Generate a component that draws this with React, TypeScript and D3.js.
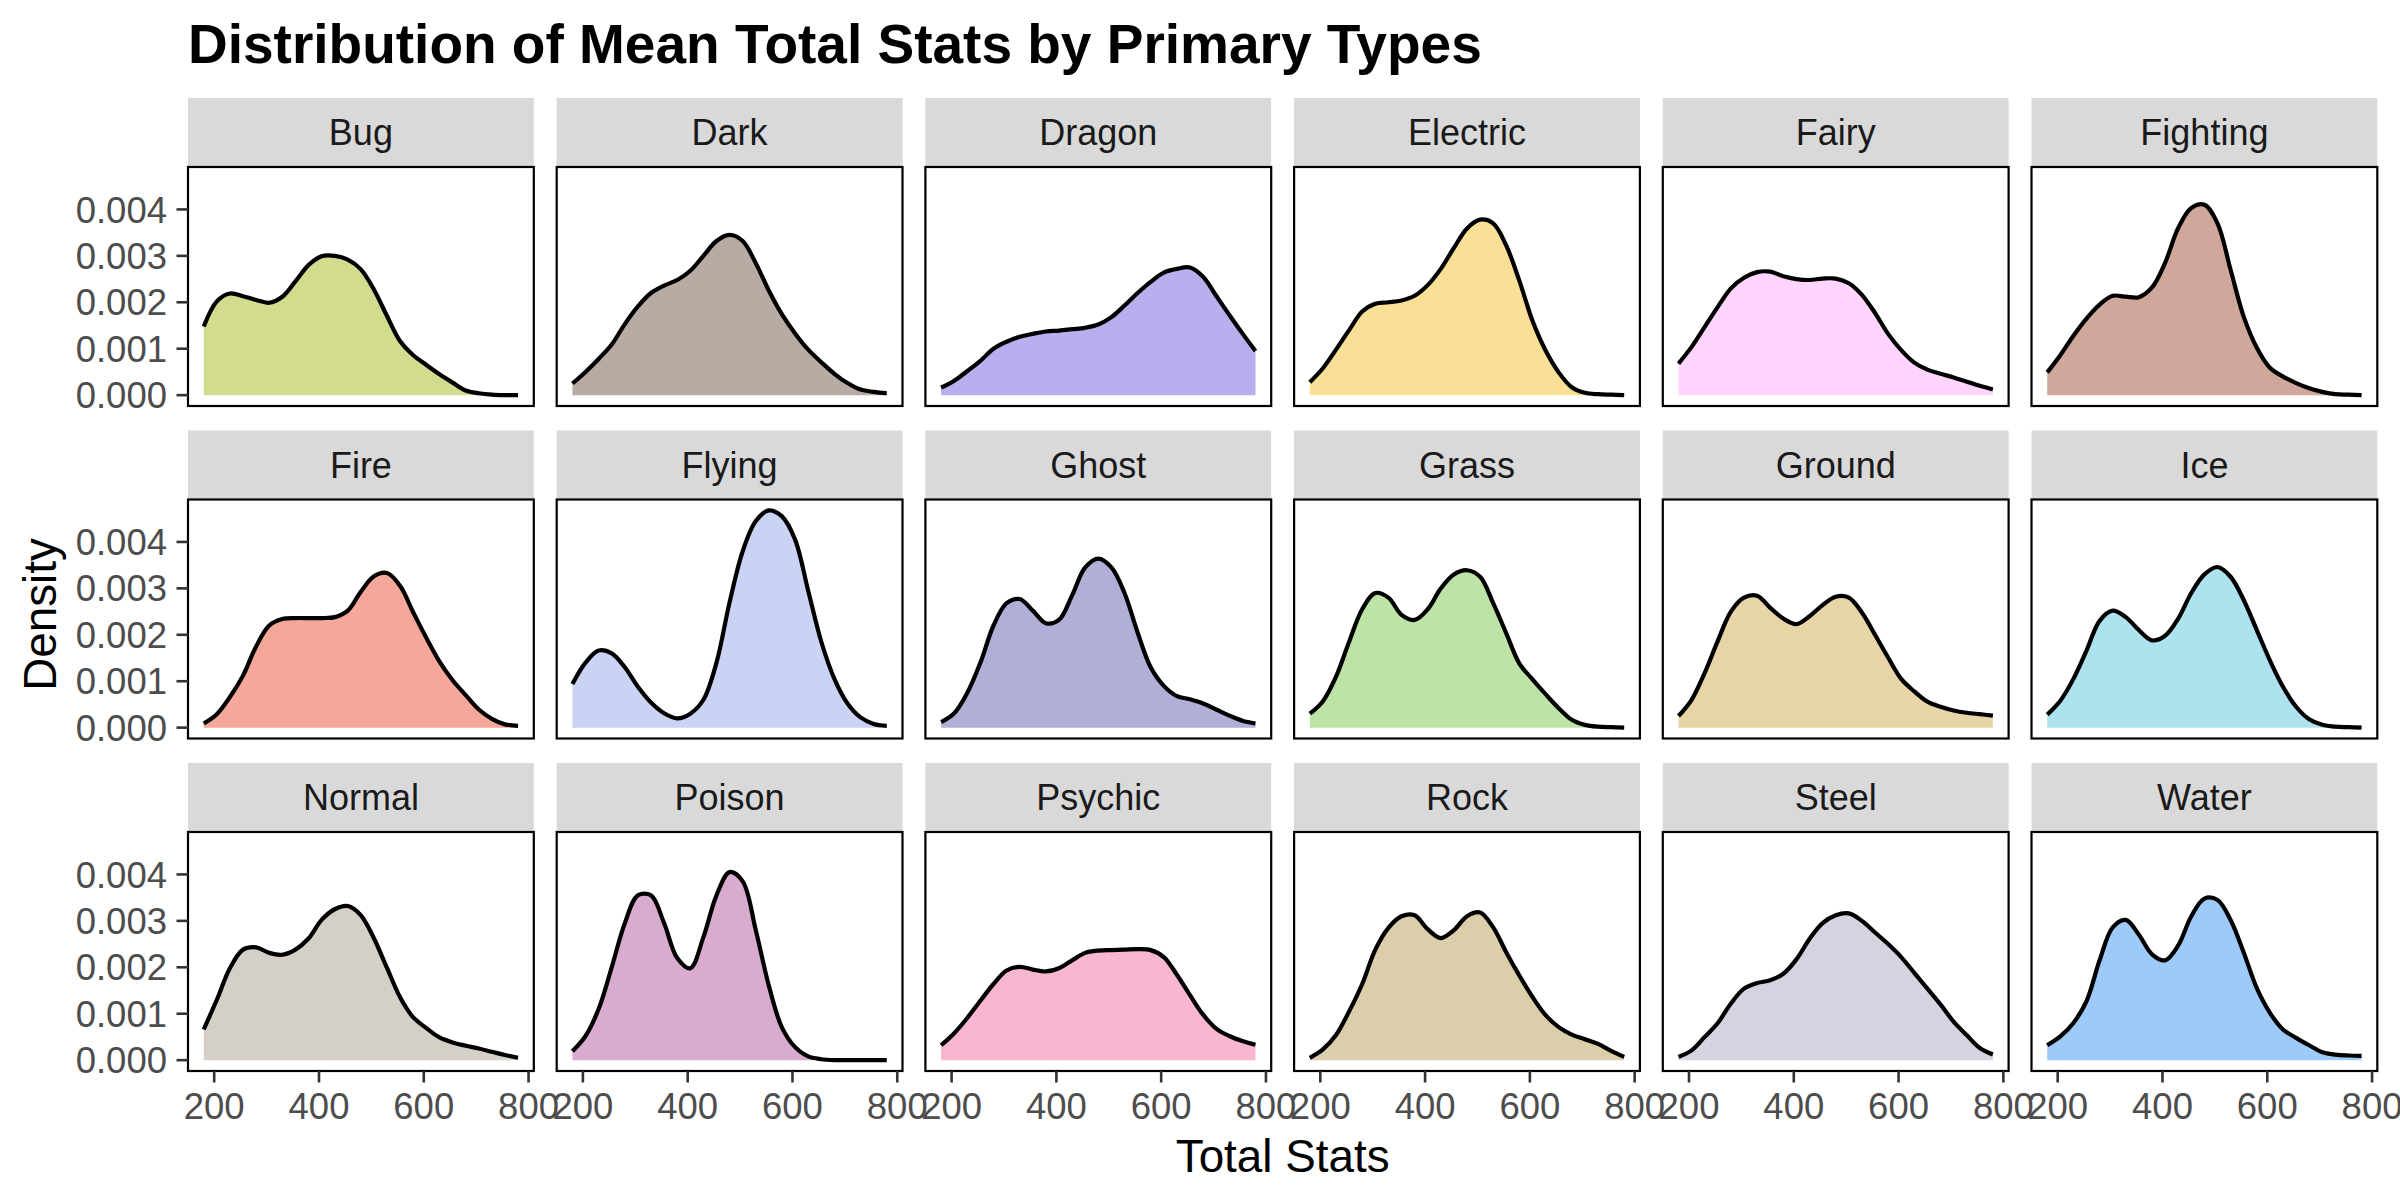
import React from 'react';
import * as d3 from 'd3';

// x grid the densities were read at (Total Stats)
const statGrid = [180, 205, 230, 255, 280, 305, 330, 355, 380, 405, 430, 455, 480, 505, 530, 555, 580, 605, 630, 655, 680, 705, 730, 755, 780];

// density values, in thousandths
const bug = [1.48, 2.02, 2.19, 2.13, 2.05, 1.99, 2.12, 2.45, 2.80, 2.99, 3.00, 2.92, 2.71, 2.27, 1.70, 1.16, 0.86, 0.65, 0.45, 0.27, 0.10, 0.04, 0.01, 0.00, 0.00];
const dark = [0.25, 0.50, 0.78, 1.09, 1.53, 1.91, 2.20, 2.36, 2.48, 2.68, 3.00, 3.32, 3.45, 3.32, 2.84, 2.25, 1.74, 1.33, 0.98, 0.71, 0.46, 0.26, 0.12, 0.07, 0.04];
const dragon = [0.16, 0.31, 0.52, 0.74, 1.00, 1.15, 1.26, 1.32, 1.37, 1.39, 1.42, 1.45, 1.52, 1.68, 1.93, 2.20, 2.44, 2.64, 2.72, 2.75, 2.55, 2.14, 1.73, 1.33, 0.95];
const electric = [0.28, 0.58, 0.98, 1.40, 1.80, 1.97, 2.00, 2.04, 2.14, 2.37, 2.72, 3.17, 3.59, 3.78, 3.70, 3.22, 2.46, 1.60, 0.96, 0.49, 0.17, 0.05, 0.02, 0.01, 0.00];
const fairy = [0.68, 1.04, 1.47, 1.90, 2.30, 2.53, 2.65, 2.66, 2.56, 2.50, 2.48, 2.51, 2.51, 2.41, 2.16, 1.77, 1.32, 0.97, 0.70, 0.55, 0.46, 0.38, 0.29, 0.20, 0.12];
const fighting = [0.49, 0.86, 1.28, 1.65, 1.95, 2.14, 2.12, 2.11, 2.32, 2.85, 3.60, 4.03, 4.10, 3.70, 2.70, 1.69, 1.02, 0.59, 0.40, 0.26, 0.15, 0.07, 0.02, 0.01, 0.00];
const fire = [0.09, 0.29, 0.66, 1.12, 1.75, 2.20, 2.34, 2.36, 2.36, 2.36, 2.38, 2.52, 2.93, 3.26, 3.33, 3.05, 2.48, 1.93, 1.42, 1.02, 0.70, 0.39, 0.19, 0.07, 0.04];
const flying = [0.94, 1.40, 1.66, 1.60, 1.30, 0.88, 0.54, 0.31, 0.20, 0.30, 0.60, 1.40, 2.70, 3.80, 4.45, 4.68, 4.55, 4.05, 2.95, 1.85, 1.05, 0.52, 0.22, 0.08, 0.04];
const ghost = [0.12, 0.31, 0.75, 1.40, 2.20, 2.68, 2.77, 2.52, 2.25, 2.32, 2.85, 3.45, 3.64, 3.45, 2.90, 2.05, 1.30, 0.90, 0.68, 0.61, 0.52, 0.39, 0.26, 0.15, 0.09];
const grass = [0.30, 0.57, 1.10, 1.85, 2.55, 2.90, 2.80, 2.43, 2.32, 2.55, 3.00, 3.30, 3.39, 3.25, 2.68, 2.03, 1.38, 1.04, 0.72, 0.42, 0.17, 0.06, 0.02, 0.01, 0.00];
const ground = [0.25, 0.60, 1.18, 1.87, 2.50, 2.80, 2.84, 2.58, 2.35, 2.23, 2.40, 2.64, 2.82, 2.80, 2.48, 2.00, 1.51, 1.05, 0.78, 0.56, 0.45, 0.37, 0.32, 0.29, 0.26];
const ice = [0.28, 0.58, 1.05, 1.66, 2.30, 2.52, 2.38, 2.10, 1.88, 1.98, 2.35, 2.90, 3.30, 3.46, 3.25, 2.75, 2.10, 1.45, 0.88, 0.45, 0.18, 0.06, 0.02, 0.01, 0.00];
const normal = [0.66, 1.30, 1.98, 2.38, 2.43, 2.31, 2.27, 2.38, 2.62, 3.02, 3.25, 3.32, 3.12, 2.62, 1.98, 1.35, 0.92, 0.69, 0.49, 0.38, 0.31, 0.25, 0.18, 0.11, 0.05];
const poison = [0.19, 0.52, 1.10, 2.00, 2.95, 3.55, 3.55, 2.95, 2.20, 1.98, 2.65, 3.55, 4.05, 3.85, 2.80, 1.60, 0.70, 0.28, 0.08, 0.02, 0.00, 0.00, 0.00, 0.00, 0.00];
const psychic = [0.32, 0.58, 0.91, 1.28, 1.64, 1.93, 2.01, 1.95, 1.91, 1.98, 2.15, 2.31, 2.36, 2.37, 2.38, 2.39, 2.37, 2.22, 1.84, 1.40, 0.98, 0.68, 0.52, 0.41, 0.33];
const rock = [0.05, 0.23, 0.54, 1.05, 1.64, 2.38, 2.85, 3.10, 3.12, 2.82, 2.63, 2.80, 3.10, 3.18, 2.86, 2.32, 1.82, 1.36, 0.97, 0.71, 0.55, 0.45, 0.35, 0.20, 0.07];
const steel = [0.07, 0.21, 0.50, 0.80, 1.22, 1.54, 1.66, 1.72, 1.86, 2.17, 2.61, 2.95, 3.12, 3.16, 3.00, 2.75, 2.50, 2.22, 1.88, 1.54, 1.20, 0.83, 0.54, 0.26, 0.12];
const water = [0.32, 0.51, 0.80, 1.27, 2.15, 2.86, 3.02, 2.70, 2.28, 2.15, 2.47, 3.10, 3.48, 3.45, 3.02, 2.32, 1.55, 1.02, 0.66, 0.48, 0.32, 0.17, 0.12, 0.10, 0.09];

const typeNames = ["Bug", "Dark", "Dragon", "Electric", "Fairy", "Fighting", "Fire", "Flying", "Ghost", "Grass", "Ground", "Ice", "Normal", "Poison", "Psychic", "Rock", "Steel", "Water"];
const typeDensities = [bug, dark, dragon, electric, fairy, fighting, fire, flying, ghost, grass, ground, ice, normal, poison, psychic, rock, steel, water];
const typeColors = ["#D3DC8E", "#B8ABA3", "#B9AEEE", "#FADF96", "#FFD5FF", "#D0A89B", "#F5A899", "#CBD3F5", "#AFAFD7", "#BDE3A7", "#E7D5A8", "#ADE3EE", "#D4D0C8", "#D8ABCF", "#F9B6D0", "#DBCEAB", "#D4D4E0", "#9DCAF8"];

const xTicks = [200, 400, 600, 800];
const yTicks = [0, 0.001, 0.002, 0.003, 0.004];

const font = "'Liberation Sans', Arial, Helvetica, sans-serif";

export default function App() {
    const width = 2400;
    const height = 1200;
    const panelLeft = 188;
    const panelW = 345.8;
    const colStep = 368.7;
    const panelTop = 167;
    const rowStep = 332.5;
    const panelH = 239;
    const stripH = 69;
    const nCols = 6;

    const series = typeNames.map((name, i) => ({
        name,
        color: typeColors[i],
        points: statGrid.map((x, j) => ({ x, d: typeDensities[i][j] / 1000 })),
    }));

    // fixed scales shared by all facets, with ggplot's 5% expansion
    const xExtent = d3.extent(statGrid) as [number, number];
    const xPad = (xExtent[1] - xExtent[0]) * 0.05;
    const x = d3.scaleLinear()
        .domain([xExtent[0] - xPad, xExtent[1] + xPad])
        .range([0, panelW]);

    const yMax = d3.max(series, s => d3.max(s.points, p => p.d))!;
    const y = d3.scaleLinear()
        .domain([-yMax * 0.05, yMax * 1.05])
        .range([panelH, 0]);

    const curve = d3.curveCatmullRom.alpha(0.5);
    const area = d3.area<{ x: number; d: number }>()
        .x(p => x(p.x))
        .y0(y(0))
        .y1(p => y(Math.max(0, p.d)))
        .curve(curve);
    const line = d3.line<{ x: number; d: number }>()
        .x(p => x(p.x))
        .y(p => y(p.d))
        .curve(curve);

    const fmtY = d3.format(".3f");
    const rightEdge = panelLeft + (nCols - 1) * colStep + panelW;
    const bottomEdge = panelTop + 2 * rowStep + panelH;

    return (
        <svg width={width} height={height} style={{ position: 'absolute', left: 0, top: 0, background: '#fff' }} fontFamily={font}>
            <rect x={0} y={0} width={width} height={height} fill="#fff" />
            <text x={panelLeft} y={63} fontSize={55} fontWeight="bold" fill="#000">
                Distribution of Mean Total Stats by Primary Types
            </text>

            {series.map((s, i) => {
                const col = i % nCols;
                const row = Math.floor(i / nCols);
                const px = panelLeft + col * colStep;
                const py = panelTop + row * rowStep;
                return (
                    <g key={s.name} transform={`translate(${px},${py})`}>
                        <rect x={0} y={-stripH} width={panelW} height={stripH} fill="#D9D9D9" />
                        <text x={panelW / 2} y={-stripH / 2} dy="0.36em" textAnchor="middle" fontSize={36} fill="#1A1A1A">
                            {s.name}
                        </text>
                        <rect x={0} y={0} width={panelW} height={panelH} fill="#fff" />
                        <path d={area(s.points)!} fill={s.color} />
                        <path d={line(s.points)!} fill="none" stroke="#000" strokeWidth={4.2} strokeLinejoin="round" />
                        <rect x={0} y={0} width={panelW} height={panelH} fill="none" stroke="#000" strokeWidth={2.2} />

                        {col === 0 && yTicks.map(t => (
                            <g key={t} transform={`translate(0,${y(t)})`}>
                                <line x1={-11.5} x2={0} stroke="#333333" strokeWidth={2.6} />
                                <text x={-21} dy="0.36em" textAnchor="end" fontSize={36.5} fill="#4D4D4D">{fmtY(t)}</text>
                            </g>
                        ))}

                        {row === 2 && xTicks.map(t => (
                            <g key={t} transform={`translate(${x(t)},${panelH})`}>
                                <line y1={0} y2={11.5} stroke="#333333" strokeWidth={2.6} />
                                <text y={48} textAnchor="middle" fontSize={36.5} fill="#4D4D4D">{t}</text>
                            </g>
                        ))}
                    </g>
                );
            })}

            <text transform={`translate(56,${(panelTop - stripH + bottomEdge) / 2 + 30}) rotate(-90)`} textAnchor="middle" fontSize={45.8} fill="#000">
                Density
            </text>
            <text x={(panelLeft + rightEdge) / 2} y={1172} textAnchor="middle" fontSize={45.8} fill="#000">
                Total Stats
            </text>
        </svg>
    );
}
